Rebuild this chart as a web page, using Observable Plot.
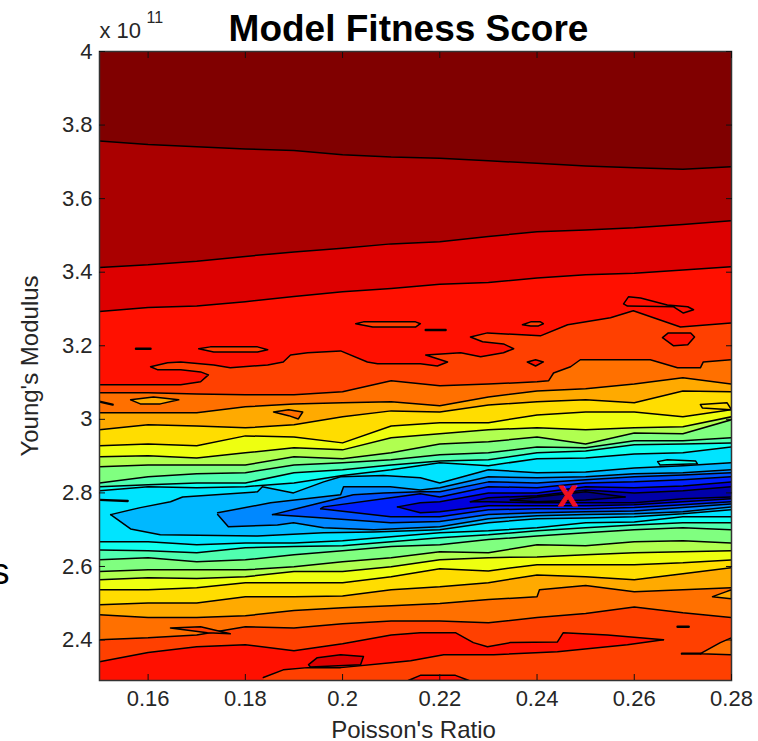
<!DOCTYPE html>
<html><head><meta charset="utf-8">
<script src="https://cdn.jsdelivr.net/npm/d3@7"></script>
<script src="https://cdn.jsdelivr.net/npm/@observablehq/plot@0.6"></script>
<style>html,body{margin:0;padding:0;background:#fff}svg{display:block}</style>
</head><body><div id="chart"></div>
<script>
const poisson=[.15,.16,.17,.18,.19,.20,.21,.22,.23,.24,.25,.26,.27,.28];
const xTicks=[.16,.18,.20,.22,.24,.26,.28];
const xLabels=["0.16","0.18","0.2","0.22","0.24","0.26","0.28"];
const yTicks=[2.4,2.6,2.8,3,3.2,3.4,3.6,3.8,4];
const yLabels=["2.4","2.6","2.8","3","3.2","3.4","3.6","3.8","4"];
const yMin=2.29;

// Contour crossings of Young's modulus (x 10^11) per Poisson column
const upper1=[3.757,3.747,3.741,3.735,3.731,3.719,3.713,3.710,3.703,3.696,3.689,3.684,3.680,3.687];
const upper2=[3.413,3.420,3.430,3.443,3.455,3.465,3.477,3.483,3.497,3.510,3.515,3.521,3.530,3.540];
const upper3=[3.293,3.304,3.308,3.320,3.334,3.347,3.356,3.367,3.372,3.384,3.393,3.397,3.406,3.415];
const upper4=[[.15,3.094],[.1564,3.094],[.1667,3.094],[.1708,3.102],[.1724,3.121],[.1708,3.129],[.1667,3.135],[.1619,3.135],[.1605,3.143],[.1640,3.154],[.1667,3.156],[.1735,3.148],[.1769,3.140],[.1846,3.148],[.1878,3.156],[.1893,3.175],[.1928,3.181],[.1996,3.186],[.2051,3.156],[.2072,3.151],[.2160,3.151],[.2195,3.145],[.2216,3.156],[.2171,3.175],[.2243,3.181],[.2284,3.170],[.2331,3.181],[.2352,3.192],[.2331,3.205],[.2288,3.211],[.2263,3.224],[.2298,3.235],[.2407,3.227],[.2463,3.257],[.2551,3.276],[.2598,3.295],[.2695,3.251],[.28,3.262]];
const upper5=[[.15,3.072],[.16,3.072],[.17,3.069],[.18,3.067],[.19,3.067],[.20,3.075],[.21,3.105],[.22,3.091],[.23,3.096],[.24,3.102],[.2424,3.105],[.2434,3.126],[.2469,3.143],[.2489,3.162],[.2633,3.162],[.2689,3.140],[.2736,3.140],[.2742,3.156],[.28,3.162]];
const upper6=[3.018,3.018,3.018,3.034,3.042,3.045,3.048,3.037,3.061,3.077,3.083,3.096,3.113,3.096];
const upper7=[2.972,2.985,2.982,2.977,2.985,3.007,3.023,3.020,3.039,3.048,3.053,3.045,3.077,3.075];
const upper8=[2.928,2.933,2.928,2.955,2.952,2.936,2.982,2.991,2.991,3.012,3.020,3.020,3.007,3.026];
const upper9=[2.898,2.901,2.895,2.909,2.923,2.917,2.950,2.961,2.972,2.977,2.972,2.977,2.980,3.007];
const upper10=[2.871,2.876,2.876,2.876,2.898,2.893,2.909,2.933,2.939,2.952,2.933,2.963,2.961,2.999];
const upper11=[2.827,2.844,2.852,2.855,2.876,2.882,2.890,2.904,2.909,2.925,2.923,2.942,2.942,2.950];
const upper12=[2.817,2.822,2.827,2.827,2.855,2.863,2.876,2.887,2.890,2.909,2.914,2.931,2.933,2.936];
const upper13=[2.806,2.817,2.814,2.817,2.827,2.847,2.863,2.882,2.874,2.893,2.895,2.906,2.909,2.925];
const lower13=[2.667,2.667,2.659,2.664,2.664,2.670,2.681,2.692,2.697,2.705,2.719,2.721,2.735,2.735];
const lower12=[2.645,2.643,2.637,2.651,2.654,2.656,2.667,2.678,2.686,2.697,2.705,2.713,2.719,2.719];
const lower11=[2.618,2.624,2.613,2.618,2.632,2.643,2.654,2.659,2.673,2.683,2.692,2.700,2.705,2.700];
const lower10=[2.586,2.591,2.591,2.591,2.599,2.613,2.624,2.640,2.637,2.659,2.656,2.667,2.670,2.664];
const lower9=[2.564,2.569,2.567,2.572,2.586,2.586,2.599,2.618,2.624,2.626,2.632,2.637,2.640,2.643];
const lower8=[2.537,2.537,2.542,2.556,2.556,2.556,2.572,2.594,2.588,2.605,2.605,2.605,2.610,2.618];
const lower7=[2.496,2.501,2.501,2.518,2.518,2.520,2.537,2.545,2.556,2.577,2.572,2.564,2.580,2.597];
const lower6=[[.15,2.469],[.16,2.461],[.17,2.461],[.18,2.466],[.19,2.480],[.20,2.488],[.21,2.493],[.22,2.499],[.23,2.510],[.24,2.518],[.2405,2.537],[.25,2.548],[.26,2.531],[.27,2.537],[.28,2.542]];
const lower5=[2.401,2.406,2.414,2.436,2.433,2.444,2.452,2.452,2.447,2.461,2.472,2.490,2.474,2.461];

const upper14=[[.1523,2.741],[.1584,2.760],[.1646,2.776],[.1671,2.789],[.1825,2.803],[.1835,2.817],[.1899,2.800],[.1961,2.830],[.1996,2.844],[.2084,2.847],[.216,2.841],[.22,2.827],[.23,2.863],[.24,2.855],[.25,2.857],[.26,2.868],[.27,2.874],[.28,2.882]];
const lower14=[[.1523,2.741],[.1564,2.702],[.1625,2.686],[.1825,2.683],[.1961,2.692],[.2064,2.694],[.22,2.700],[.23,2.719],[.24,2.730],[.25,2.732],[.26,2.735],[.27,2.743],[.28,2.754]];
const upper15=[[.1743,2.746],[.1852,2.773],[.1996,2.795],[.2002,2.817],[.2098,2.817],[.216,2.808],[.22,2.814],[.23,2.844],[.24,2.841],[.25,2.844],[.26,2.852],[.27,2.855],[.28,2.863]];
const lower15=[[.1743,2.741],[.1765,2.708],[.1866,2.713],[.1899,2.719],[.1961,2.705],[.2064,2.700],[.22,2.708],[.23,2.730],[.24,2.738],[.25,2.741],[.26,2.743],[.27,2.749],[.28,2.762]];
const upper16=[[.1856,2.741],[.1955,2.773],[.2022,2.795],[.2084,2.800],[.216,2.803],[.22,2.803],[.23,2.830],[.24,2.827],[.25,2.836],[.26,2.844],[.27,2.849],[.28,2.855]];
const lower16=[[.1856,2.741],[.1961,2.732],[.2099,2.719],[.22,2.722],[.23,2.741],[.24,2.746],[.25,2.749],[.26,2.751],[.27,2.760],[.28,2.770]];
const upper17=[[.1955,2.757],[.1961,2.762],[.2099,2.787],[.216,2.798],[.22,2.789],[.23,2.817],[.24,2.814],[.25,2.827],[.26,2.830],[.27,2.836],[.28,2.844]];
const lower17=[[.1955,2.757],[.2099,2.735],[.216,2.735],[.22,2.735],[.23,2.754],[.24,2.757],[.25,2.757],[.26,2.760],[.27,2.768],[.28,2.776]];
const upper18=[[.2113,2.762],[.216,2.773],[.22,2.776],[.23,2.800],[.24,2.800],[.25,2.817],[.26,2.814],[.27,2.819],[.28,2.830]];
const lower18=[[.2113,2.762],[.216,2.746],[.22,2.749],[.23,2.765],[.24,2.765],[.25,2.765],[.26,2.768],[.27,2.776],[.28,2.784]];
const upper19=[[.2263,2.776],[.23,2.787],[.24,2.792],[.25,2.808],[.26,2.800],[.27,2.806],[.28,2.817]];
const lower19=[[.2263,2.776],[.23,2.776],[.24,2.773],[.25,2.773],[.26,2.773],[.27,2.784],[.28,2.789]];
const upper20=[[.2345,2.781],[.24,2.789],[.25,2.803],[.2581,2.789]];
const lower20=[[.2345,2.781],[.24,2.776],[.25,2.781],[.2581,2.789]];

const redBandTop=[[.15,2.341],[.16,2.366],[.17,2.382],[.18,2.387],[.19,2.371],[.20,2.390],[.21,2.414],[.216,2.420],[.2232,2.420],[.2269,2.393],[.2298,2.382],[.2345,2.393],[.2442,2.395],[.2454,2.420],[.2545,2.414],[.266,2.401]];
const redBandBottom=[[.15,2.29],[.1837,2.29],[.1837,2.298],[.1878,2.319],[.1928,2.325],[.1996,2.325],[.2099,2.338],[.214,2.344],[.2208,2.360],[.2311,2.360],[.2442,2.368],[.2586,2.387],[.266,2.401]];
const deepRedBlob=[[.193,2.333],[.1948,2.352],[.1996,2.360],[.2043,2.355],[.2037,2.333],[.1934,2.327]];

const isleA=[[.1704,3.192],[.1728,3.197],[.1825,3.197],[.1846,3.189],[.1825,3.183],[.1735,3.183]];
const isleB=[[.2027,3.260],[.2043,3.265],[.215,3.265],[.216,3.260],[.215,3.251],[.2062,3.251]];
const isleC=[[.237,3.257],[.2387,3.265],[.2407,3.265],[.2413,3.260],[.2403,3.254],[.2387,3.254]];
const isleD=[[.238,3.156],[.2397,3.162],[.2413,3.156],[.2397,3.145]];
const isleE=[[.2658,3.222],[.2670,3.235],[.2716,3.235],[.2724,3.224],[.2710,3.203],[.2681,3.200]];
const isleF=[[.2578,3.314],[.2588,3.333],[.2613,3.330],[.2668,3.311],[.2710,3.306],[.2722,3.298],[.2701,3.289],[.2681,3.306],[.2586,3.308]];
const isleG=[[.1564,3.053],[.1611,3.061],[.1663,3.053],[.1625,3.042],[.1584,3.042]];
const isleH=[[.1858,3.020],[.1889,3.026],[.1918,3.020],[.1909,3.001],[.1889,3.010]];
const isleI=[[.2648,2.885],[.2668,2.890],[.2726,2.887],[.273,2.879],[.2653,2.876]];
const isleJ=[[.2736,2.363],[.2777,2.393],[.28,2.406],[.28,2.360]];
const isleK=[[.2761,2.518],[.2788,2.531],[.28,2.537],[.28,2.512]];
const isleL=[[.1646,2.433],[.1708,2.436],[.1769,2.417],[.1722,2.420]];
const isleM=[[.2736,3.040],[.2791,3.045],[.28,3.026],[.274,3.031]];
const isleN=[[.2135,2.29],[.216,2.304],[.2232,2.304],[.2260,2.29]];
const shortA=[[.1575,3.192],[.1605,3.192]];
const shortB=[[.2171,3.243],[.2212,3.243]];
const shortC=[[.15,2.781],[.1558,2.778]];
const shortD=[[.2689,2.436],[.2712,2.436]];
const shortE=[[.2698,2.363],[.2736,2.363]];
const shortF=[[.15,3.048],[.1527,3.040]];

const bestFit=[{x:.2463,y:2.789,label:"X"}];

const cols=ys=>ys.map((y,i)=>[poisson[i],y]);
const base=[[.28,yMin],[.15,yMin]];
const rev=a=>[...a].reverse();
const levels=[
 {color:"#aa0000",top:cols(upper1),bottom:base,open:1},
 {color:"#dd0000",top:cols(upper2),bottom:base,open:1},
 {color:"#ff1000",top:cols(upper3),bottom:base,open:1},
 {color:"#ff4000",top:upper4,bottom:base,open:1},
 {color:"#ff7000",top:upper5,bottom:rev(cols(lower5))},
 {color:"#ffaa00",top:cols(upper6),bottom:rev(lower6)},
 {color:"#ffdd00",top:cols(upper7),bottom:rev(cols(lower7))},
 {color:"#eeff10",top:cols(upper8),bottom:rev(cols(lower8))},
 {color:"#b0ff50",top:cols(upper9),bottom:rev(cols(lower9))},
 {color:"#80ff80",top:cols(upper10),bottom:rev(cols(lower10))},
 {color:"#50ffb0",top:cols(upper11),bottom:rev(cols(lower11))},
 {color:"#10ffee",top:cols(upper12),bottom:rev(cols(lower12))},
 {color:"#00e4ff",top:cols(upper13),bottom:rev(cols(lower13))},
 {color:"#00b8ff",top:upper14,bottom:rev(lower14)},
 {color:"#0088ff",top:upper15,bottom:rev(lower15)},
 {color:"#0050ff",top:upper16,bottom:rev(lower16)},
 {color:"#0020ff",top:upper17,bottom:rev(lower17)},
 {color:"#0000dd",top:upper18,bottom:rev(lower18)},
 {color:"#0000aa",top:upper19,bottom:rev(lower19)},
 {color:"#000080",top:upper20,bottom:rev(lower20)}
];
const islands=[
 [isleA,"#ff4000"],[isleB,"#ff4000"],[isleC,"#ff4000"],[isleD,"#ff1000"],[isleE,"#ff1000"],[isleF,"#ff1000"],
 [isleG,"#ffaa00"],[isleH,"#ff7000"],[isleI,"#10ffee"],[isleJ,"#ff7000"],[isleK,"#ffaa00"],[isleL,"#ff4000"],[isleM,"#ffdd00"],[isleN,"#ff1000"]
];
const px=d=>d[0], py=d=>d[1];
const LINE=1.5;
const ln={x:px,y:py,stroke:"#000",strokeWidth:LINE,clip:"frame"};
const marks=[Plot.frame({fill:"#800000",stroke:"none"})];
levels.forEach((l,i)=>{
  marks.push(Plot.line([...l.top,...l.bottom],{x:px,y:py,fill:l.color,stroke:"none",clip:"frame"}));
  if(i===3){
    marks.push(Plot.line([...redBandTop,...rev(redBandBottom)],{x:px,y:py,fill:"#ff1000",stroke:"none",clip:"frame"}));
    marks.push(Plot.line(deepRedBlob,{x:px,y:py,fill:"#dd0000",stroke:"none",clip:"frame"}));
  }
});
levels.forEach(l=>{
  marks.push(Plot.line(l.top,ln));
  if(!l.open) marks.push(Plot.line(rev(l.bottom),ln));
});
marks.push(Plot.line(redBandTop,ln),Plot.line(redBandBottom.slice(2),ln),Plot.line([...deepRedBlob,deepRedBlob[0]],ln));
islands.forEach(([p,c])=>{
  marks.push(Plot.line([...p,p[0]],{x:px,y:py,fill:c,stroke:"#000",strokeWidth:LINE,clip:"frame"}));
});
[shortA,shortB,shortC,shortD,shortE,shortF].forEach(s=>marks.push(Plot.line(s,{...ln,strokeWidth:2.4})));
marks.push(Plot.text(bestFit,{x:"x",y:"y",text:"label",fill:"#f01020",stroke:"#f01020",strokeWidth:1,fontSize:29,fontWeight:"bold",fontFamily:"Liberation Sans"}));
const FONT=22, INK="#262626";
marks.push(
 Plot.frame({stroke:"#333",strokeWidth:1.5}),
 Plot.axisX(xTicks,{anchor:"bottom",tickSize:-6,tickPadding:16,stroke:"#111",fontSize:FONT,fill:INK,tickFormat:(d,i)=>xLabels[i],label:null}),
 Plot.axisX(xTicks,{anchor:"top",tickSize:-6,stroke:"#111",tickFormat:()=>"",label:null}),
 Plot.axisY(yTicks,{anchor:"left",tickSize:-6,tickPadding:13,stroke:"#111",fontSize:FONT,fill:INK,tickFormat:(d,i)=>yLabels[i],label:null}),
 Plot.axisY(yTicks,{anchor:"right",tickSize:-6,stroke:"#111",tickFormat:()=>"",label:null}),
 Plot.text(["Poisson's Ratio"],{frameAnchor:"bottom",lineAnchor:"middle",dx:-2,dy:50,fontSize:24,fill:INK}),
 Plot.text(["Young's Modulus"],{frameAnchor:"left",textAnchor:"middle",rotate:-90,dx:-69,fontSize:24,fill:INK}),
 Plot.text(["Model Fitness Score"],{frameAnchor:"top",dx:-7,dy:-37,fontSize:37,fontWeight:"bold",fill:"#000",fontFamily:"Liberation Sans"}),
 Plot.text(["x 10"],{frameAnchor:"top-left",dx:0,dy:-29,fontSize:FONT,fill:INK,textAnchor:"start"}),
 Plot.text(["11"],{frameAnchor:"top-left",dx:47,dy:-40,fontSize:16,fill:INK,textAnchor:"start"}),
 Plot.text(["s"],{frameAnchor:"left",dx:-108,dy:206,fontSize:36,fill:"#000",textAnchor:"start"})
);
const chart=Plot.plot({
 width:758,height:741,marginLeft:99,marginRight:27,marginTop:51,marginBottom:61,
 style:{fontFamily:"Liberation Sans",background:"#fff",overflow:"visible"},
 x:{domain:[.15,.28]},y:{domain:[yMin,4]},
 marks
});
document.getElementById("chart").append(chart);
</script></body></html>
